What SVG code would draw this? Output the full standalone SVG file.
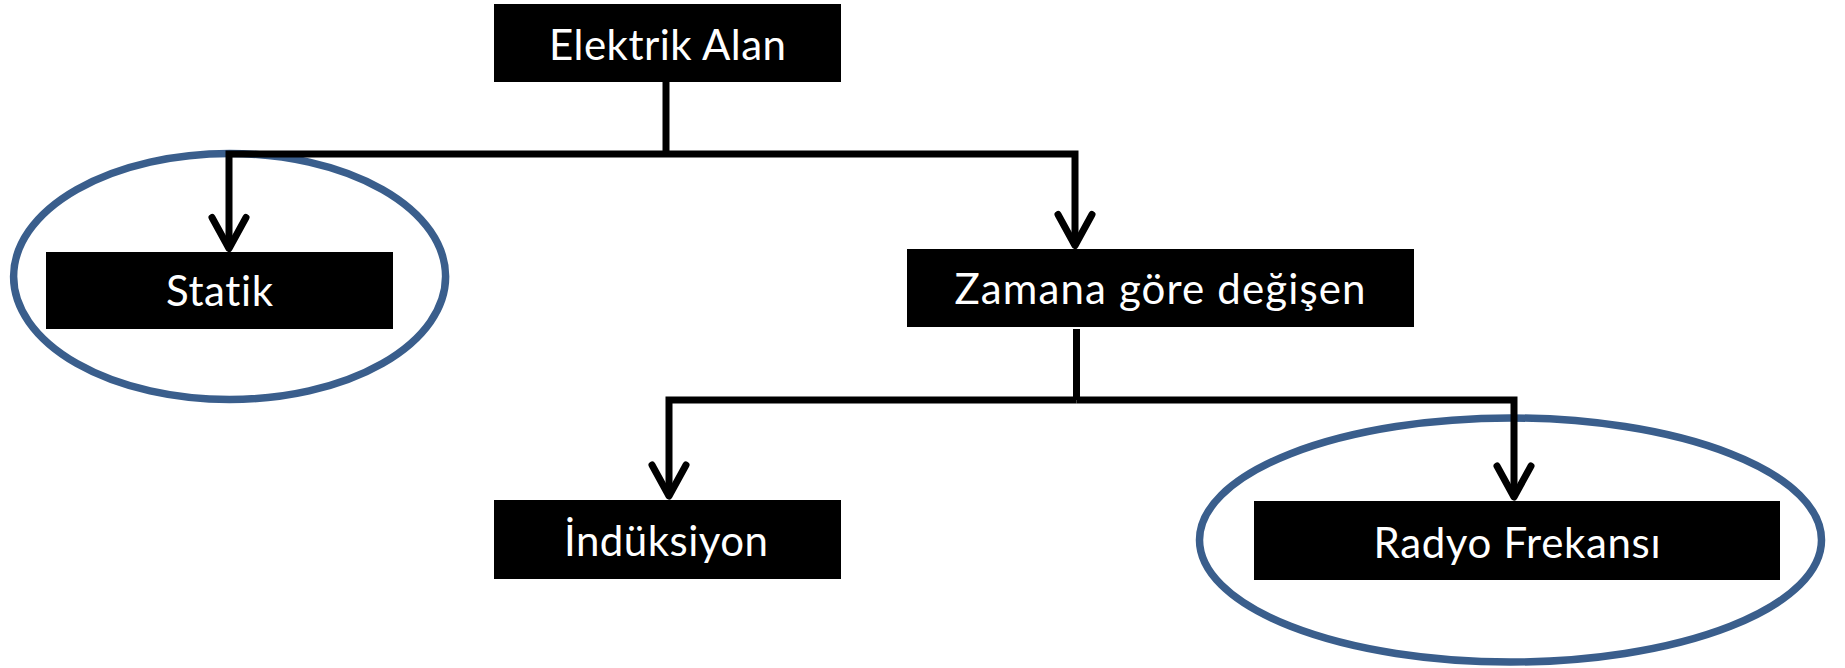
<svg xmlns="http://www.w3.org/2000/svg" width="1845" height="668" viewBox="0 0 1845 668">
  <style>
    .box { fill: #000000; }
    .lbl { fill: #ffffff; font-family: Lato, "Open Sans", sans-serif; font-size: 42px; text-anchor: middle; font-variant-ligatures: none; }
    .conn { fill: none; stroke: #000000; stroke-width: 7; stroke-linejoin: miter; }
    .hl { fill: none; stroke: #3A5E8C; stroke-width: 7.5; }
    .head { fill: none; stroke: #000000; stroke-width: 7; stroke-linecap: round; stroke-linejoin: round; }
  </style>
  <defs>
    <marker id="arrow" markerUnits="userSpaceOnUse" markerWidth="80" markerHeight="80" refX="0" refY="0" orient="auto" overflow="visible">
      <path class="head" d="M-31,-17 L0,0 L-31,17"/>
    </marker>
  </defs>
  <rect width="1845" height="668" fill="#ffffff"/>

  <g id="highlights">
    <ellipse cx="229.6" cy="276.5" rx="216" ry="123" class="hl"/>
    <ellipse cx="1510.5" cy="540" rx="311" ry="122" class="hl"/>
  </g>

  <g id="connectors">
    <path class="conn" d="M666,82 V154"/>
    <path class="conn" d="M666,154 H229 V248.5" marker-end="url(#arrow)"/>
    <path class="conn" d="M666,154 H1075 V245.5" marker-end="url(#arrow)"/>
    <path class="conn" d="M1076.5,329 V400"/>
    <path class="conn" d="M1076.5,400 H669 V496" marker-end="url(#arrow)"/>
    <path class="conn" d="M1076.5,400 H1514 V497" marker-end="url(#arrow)"/>
  </g>

  <g id="node-elektrik-alan">
    <rect class="box" x="494" y="4" width="347" height="78"/>
    <text class="lbl" x="667.5" y="60" textLength="237" lengthAdjust="spacing">Elektrik Alan</text>
  </g>
  <g id="node-statik">
    <rect class="box" x="46" y="252" width="347" height="77"/>
    <text class="lbl" x="219.5" y="306" textLength="107" lengthAdjust="spacing">Statik</text>
  </g>
  <g id="node-zamana">
    <rect class="box" x="907" y="249" width="507" height="78"/>
    <text class="lbl" x="1160" y="304" textLength="411" lengthAdjust="spacing">Zamana göre değişen</text>
  </g>
  <g id="node-induksiyon">
    <rect class="box" x="494" y="500" width="347" height="79"/>
    <text class="lbl" x="666" y="556" textLength="204" lengthAdjust="spacing">İndüksiyon</text>
  </g>
  <g id="node-radyo">
    <rect class="box" x="1254" y="501" width="526" height="79"/>
    <text class="lbl" x="1517" y="558" textLength="287" lengthAdjust="spacing">Radyo Frekansı</text>
  </g>
</svg>
